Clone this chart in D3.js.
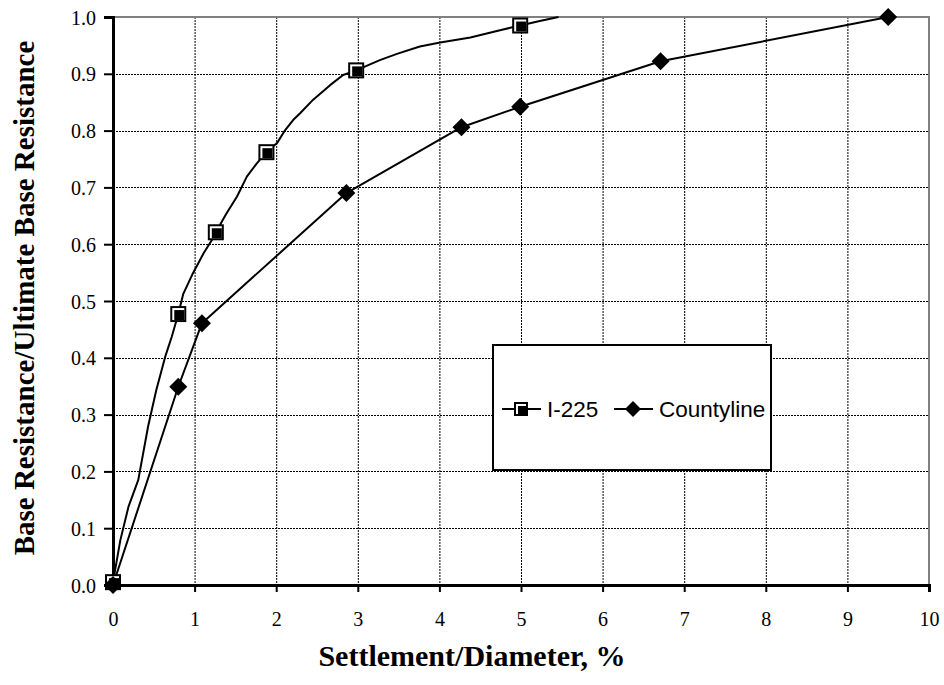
<!DOCTYPE html>
<html>
<head>
<meta charset="utf-8">
<script src="https://cdn.jsdelivr.net/npm/d3@7"></script>
<style>
  body { margin: 0; background: #fff; }
  svg { display: block; }
</style>
</head>
<body>
<svg width="944" height="685"></svg>
<script>
// I-225 measured curve (settlement/diameter %, normalized base resistance)
var i225X = [0, 0.09, 0.19, 0.31, 0.43, 0.53, 0.64, 0.72, 0.80, 0.86, 0.98, 1.11, 1.21, 1.26, 1.39, 1.52, 1.64, 1.76, 1.88, 2.01, 2.11, 2.21, 2.29, 2.45, 2.66, 2.82, 2.98, 3.27, 3.48, 3.76, 4.01, 4.38, 4.58, 4.78, 4.99, 5.23, 5.46];
var i225Y = [0.005, 0.079, 0.138, 0.185, 0.279, 0.343, 0.402, 0.437, 0.477, 0.512, 0.549, 0.584, 0.607, 0.621, 0.654, 0.684, 0.719, 0.742, 0.762, 0.778, 0.801, 0.819, 0.830, 0.854, 0.880, 0.898, 0.906, 0.924, 0.935, 0.948, 0.955, 0.964, 0.971, 0.978, 0.985, 0.993, 1.0];
var i225Marks = [0, 8, 13, 18, 26, 34];

var countyX = [0, 0.80, 1.09, 2.86, 4.27, 4.99, 6.71, 9.50];
var countyY = [0, 0.349, 0.461, 0.690, 0.806, 0.842, 0.922, 1.0];

var xTicks = [0, 1, 2, 3, 4, 5, 6, 7, 8, 9, 10];
var yTicks = [0, 0.1, 0.2, 0.3, 0.4, 0.5, 0.6, 0.7, 0.8, 0.9, 1.0];
var seriesNames = ["I-225", "Countyline"];

var svg = d3.select("svg");
var L = 113, R = 929, T = 17, B = 585;
var serif = "'Liberation Serif', 'Times New Roman', serif";

var x = d3.scaleLinear().domain([0, 10]).range([L, R]);
var y = d3.scaleLinear().domain([0, 1]).range([B, T]);

// grid
var grid = svg.append("g");
grid.selectAll(".gx").data(xTicks.slice(1, -1)).enter().append("line")
  .attr("x1", function(d) { return x(d) + 0.5; }).attr("x2", function(d) { return x(d) + 0.5; })
  .attr("y1", T).attr("y2", B)
  .attr("stroke", "#000").attr("stroke-width", 1).attr("stroke-dasharray", "2,1");
grid.selectAll(".gy").data(yTicks.slice(1, -1)).enter().append("line")
  .attr("y1", function(d) { return Math.round(y(d)) + 0.5; }).attr("y2", function(d) { return Math.round(y(d)) + 0.5; })
  .attr("x1", L).attr("x2", R)
  .attr("stroke", "#000").attr("stroke-width", 1).attr("stroke-dasharray", "2,1");

// plot border (top, right)
svg.append("path")
  .attr("d", "M" + L + "," + T + "H" + R + "V" + B)
  .attr("fill", "none").attr("stroke", "#808080").attr("stroke-width", 2);

// axes
var yAxis = svg.append("g").attr("transform", "translate(" + L + ",0)")
  .call(d3.axisLeft(y).tickValues(yTicks).tickFormat(d3.format(".1f")).tickSize(9).tickPadding(8));
var xAxis = svg.append("g").attr("transform", "translate(0," + B + ")")
  .call(d3.axisBottom(x).tickValues(xTicks).tickFormat(d3.format("d")).tickSize(7).tickPadding(20));
[yAxis, xAxis].forEach(function(a) {
  a.select(".domain").attr("stroke", "#000").attr("stroke-width", 3);
  a.selectAll(".tick line").attr("stroke", "#000").attr("stroke-width", 2);
  a.selectAll(".tick text").attr("fill", "#000")
    .style("font-family", serif).style("font-size", "20px");
});
yAxis.selectAll(".tick text").attr("dy", "0.35em");

// lines
var line = d3.line().x(function(d) { return x(d[0]); }).y(function(d) { return y(d[1]); });
var i225 = i225X.map(function(v, i) { return [v, i225Y[i]]; });
var county = countyX.map(function(v, i) { return [v, countyY[i]]; });

svg.append("path").datum(i225).attr("d", line)
  .attr("fill", "none").attr("stroke", "#000").attr("stroke-width", 2).attr("stroke-linejoin", "round");
svg.append("path").datum(county).attr("d", line)
  .attr("fill", "none").attr("stroke", "#000").attr("stroke-width", 2).attr("stroke-linejoin", "round");

function squareMark(g, s) {
  g.append("rect").attr("x", -s / 2).attr("y", -s / 2).attr("width", s).attr("height", s).attr("fill", "#000");
  g.append("rect").attr("x", -s / 2 + 2).attr("y", -s / 2 + 2).attr("width", s - 4).attr("height", s - 4).attr("fill", "#fff");
  g.append("rect").attr("x", -s / 2 + 4).attr("y", -s / 2 + 4).attr("width", s - 6).attr("height", s - 6).attr("fill", "#000");
}
function diamondMark(g, r) {
  g.append("path").attr("d", "M0," + (-r) + "L" + r + ",0L0," + r + "L" + (-r) + ",0Z").attr("fill", "#000");
}

i225Marks.forEach(function(i) {
  var g = svg.append("g").attr("transform", "translate(" + x(i225[i][0]) + "," + y(i225[i][1]) + ")");
  squareMark(g, 16);
});
county.forEach(function(d) {
  var g = svg.append("g").attr("transform", "translate(" + x(d[0]) + "," + y(d[1]) + ")");
  diamondMark(g, 9);
});

// legend
var lg = svg.append("g");
lg.append("rect").attr("x", 493).attr("y", 345).attr("width", 278).attr("height", 125)
  .attr("fill", "#fff").attr("stroke", "#000").attr("stroke-width", 2);
var ly = 409;
lg.append("line").attr("x1", 502).attr("x2", 541).attr("y1", ly).attr("y2", ly).attr("stroke", "#000").attr("stroke-width", 2);
squareMark(lg.append("g").attr("transform", "translate(521," + ly + ")"), 14);
lg.append("line").attr("x1", 614).attr("x2", 653).attr("y1", ly).attr("y2", ly).attr("stroke", "#000").attr("stroke-width", 2);
diamondMark(lg.append("g").attr("transform", "translate(633," + ly + ")"), 8);
lg.selectAll(".lt").data(seriesNames).enter().append("text")
  .attr("x", function(d, i) { return i === 0 ? 547 : 659; })
  .attr("y", ly + 8)
  .style("font-family", "'Liberation Sans', Arial, sans-serif").style("font-size", "22.5px")
  .text(function(d) { return d; });

// axis titles
svg.append("text").attr("x", 472).attr("y", 666).attr("text-anchor", "middle")
  .style("font-family", serif).style("font-size", "30px").style("font-weight", "bold")
  .text("Settlement/Diameter, %");
svg.append("text").attr("transform", "translate(34,298) rotate(-90)").attr("text-anchor", "middle")
  .style("font-family", serif).style("font-size", "29px").style("font-weight", "bold")
  .text("Base Resistance/Ultimate Base Resistance");
</script>
</body>
</html>
